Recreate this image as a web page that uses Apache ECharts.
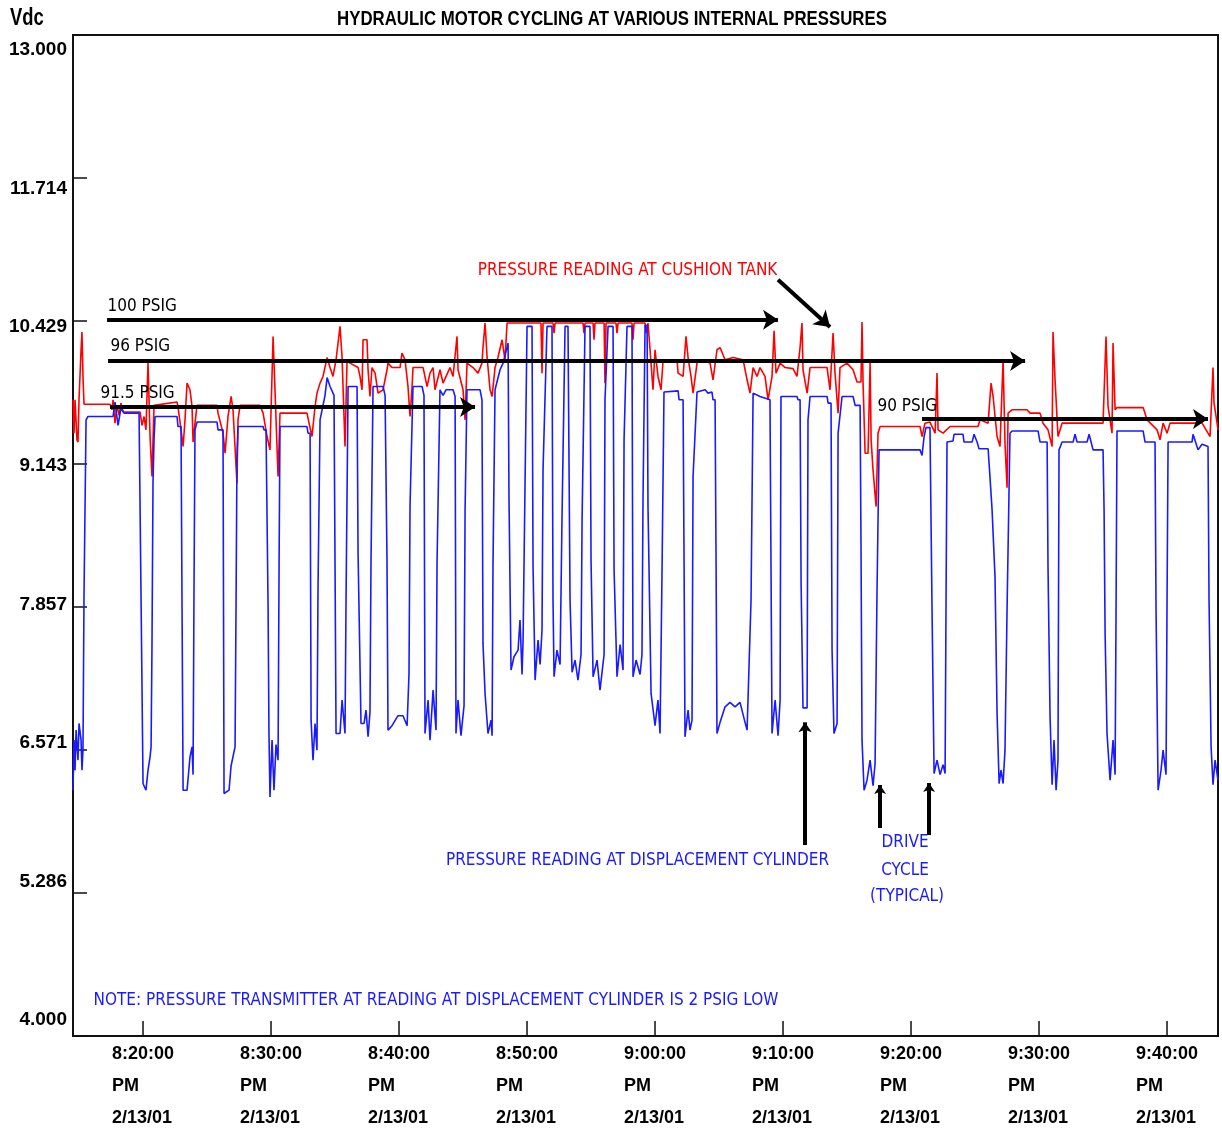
<!DOCTYPE html>
<html><head><meta charset="utf-8">
<script src="https://cdn.jsdelivr.net/npm/echarts@6/dist/echarts.min.js"></script>
<style>html,body{margin:0;padding:0;background:#fff}#c{width:1222px;height:1132px}</style>
</head><body><div id="c"></div>
<script>
const BOLD = "'Liberation Sans','Arial',sans-serif";
const NOTEFONT = "'DejaVu Sans Condensed','DejaVu Sans',sans-serif";
// x values: minutes after 8:00 PM; y values: Vdc
const xTickMinutes = [20,30,40,50,60,70,80,90,100];
const xDateLabel = '2/13/01';
const yTickValues = [4.0000, 5.2857, 6.5714, 7.8571, 9.1429, 10.4286, 11.7143, 13.0000];
const chartTitle = 'HYDRAULIC MOTOR CYCLING AT VARIOUS INTERNAL PRESSURES';
const yUnit = 'Vdc';

const displacementCylinder = [[14.53,6.21],[14.61,6.66],[14.69,6.39],[14.77,6.75],[14.92,6.48],[15.00,6.81],[15.16,6.66],[15.23,6.39],[15.31,6.57],[15.39,7.96],[15.55,9.54],[15.70,9.57],[17.66,9.57],[17.81,9.70],[18.05,9.49],[18.28,9.65],[18.52,9.60],[19.69,9.60],[19.84,8.01],[20.00,6.27],[20.23,6.21],[20.39,6.39],[20.55,6.51],[20.63,6.60],[20.70,7.50],[20.78,8.97],[20.86,9.36],[20.94,9.57],[22.66,9.57],[22.73,9.48],[22.97,9.48],[23.05,7.83],[23.13,6.21],[23.44,6.21],[23.67,6.51],[23.83,6.60],[23.91,6.35],[23.98,7.95],[24.06,9.45],[24.22,9.52],[25.78,9.52],[25.86,9.45],[26.25,9.45],[26.33,6.18],[26.72,6.21],[26.88,6.43],[27.19,6.60],[27.27,7.92],[27.34,9.21],[27.42,9.48],[29.38,9.48],[29.45,9.45],[29.61,9.45],[29.77,7.86],[29.84,6.72],[29.92,6.15],[30.08,6.66],[30.23,6.21],[30.39,6.62],[30.55,6.48],[30.63,8.25],[30.70,9.48],[32.81,9.48],[32.89,9.42],[33.05,9.42],[33.13,6.84],[33.28,6.48],[33.44,6.81],[33.59,6.57],[33.67,8.01],[33.83,9.54],[34.22,9.76],[34.38,9.92],[34.61,9.84],[34.92,9.76],[35.00,8.25],[35.08,6.72],[35.39,6.72],[35.55,7.02],[35.78,6.72],[35.86,7.92],[36.02,9.84],[36.72,9.84],[36.80,8.34],[37.03,6.81],[37.27,6.81],[37.42,6.93],[37.58,6.69],[37.73,6.91],[37.81,8.25],[37.97,9.84],[38.75,9.84],[38.91,9.76],[39.06,8.28],[39.14,6.75],[39.45,6.79],[39.92,6.88],[40.31,6.88],[40.63,6.79],[40.78,7.26],[40.86,8.77],[41.09,9.84],[41.80,9.84],[41.95,9.76],[42.03,6.72],[42.27,7.02],[42.42,6.66],[42.66,7.11],[42.89,6.75],[42.97,8.25],[43.20,9.81],[43.44,9.76],[43.67,9.81],[44.22,9.81],[44.38,9.75],[44.45,6.72],[44.61,7.02],[44.84,6.70],[45.08,6.97],[45.16,8.73],[45.31,9.81],[46.33,9.81],[46.48,9.72],[46.56,7.53],[46.72,7.08],[46.95,6.72],[47.19,6.84],[47.27,6.70],[47.34,8.22],[47.50,9.81],[47.89,9.99],[48.13,10.05],[48.52,10.23],[48.59,8.85],[48.75,7.29],[48.98,7.41],[49.30,7.47],[49.45,7.74],[49.61,7.25],[49.69,7.56],[50.00,10.38],[50.39,10.38],[50.47,8.22],[50.63,7.20],[50.86,7.56],[51.02,7.34],[51.17,7.65],[51.25,9.09],[51.56,10.38],[51.95,10.38],[52.03,7.92],[52.11,7.23],[52.34,7.47],[52.58,7.34],[52.73,8.64],[52.97,10.38],[53.20,10.38],[53.36,7.92],[53.52,7.27],[53.75,7.38],[53.98,7.20],[54.22,7.43],[54.30,8.64],[54.53,10.38],[54.92,10.38],[55.00,8.28],[55.16,7.23],[55.47,7.38],[55.70,7.11],[56.02,7.43],[56.09,9.72],[56.33,10.38],[56.72,10.38],[56.80,8.19],[57.03,7.23],[57.27,7.52],[57.50,7.29],[57.58,9.36],[57.81,10.38],[58.20,10.38],[58.28,7.23],[58.52,7.38],[58.83,7.25],[58.98,7.43],[59.06,8.82],[59.22,10.39],[59.38,10.39],[59.45,8.76],[59.69,7.08],[60.00,6.79],[60.23,7.02],[60.39,6.72],[60.55,8.22],[60.70,9.79],[61.80,9.80],[61.88,9.72],[62.19,9.72],[62.27,8.22],[62.34,6.69],[62.58,6.93],[62.73,6.75],[62.89,6.84],[62.97,9.03],[63.28,9.79],[63.91,9.81],[64.14,9.78],[64.45,9.79],[64.53,9.72],[64.69,9.72],[64.77,8.22],[64.84,6.72],[65.08,6.82],[65.47,6.96],[65.86,7.00],[66.25,6.96],[66.64,7.00],[67.03,6.82],[67.19,6.75],[67.50,7.92],[67.66,9.78],[68.20,9.75],[68.98,9.72],[69.06,8.22],[69.14,6.72],[69.38,7.02],[69.61,6.70],[69.77,7.02],[69.84,9.75],[71.09,9.75],[71.17,9.72],[71.33,9.72],[71.41,8.07],[71.56,6.95],[71.88,6.95],[71.95,9.54],[72.11,9.75],[73.44,9.75],[73.52,9.69],[73.75,9.69],[73.83,7.47],[73.98,6.72],[74.22,6.81],[74.30,9.42],[74.61,9.75],[75.47,9.75],[75.63,9.67],[76.02,9.67],[76.09,8.43],[76.17,6.66],[76.33,6.21],[76.56,6.30],[76.80,6.48],[77.03,6.25],[77.19,6.45],[77.34,7.98],[77.50,9.27],[80.70,9.27],[80.86,9.22],[81.02,9.39],[81.17,9.47],[81.48,9.47],[81.64,7.83],[81.80,6.36],[82.03,6.48],[82.27,6.35],[82.50,6.44],[82.66,6.36],[82.73,7.83],[82.81,9.34],[83.28,9.35],[83.36,9.41],[84.06,9.41],[84.14,9.34],[84.77,9.34],[84.92,9.41],[85.16,9.34],[85.31,9.28],[86.02,9.28],[86.17,9.02],[86.33,8.73],[86.56,8.13],[86.72,6.90],[86.88,6.27],[87.03,6.39],[87.19,6.27],[87.34,6.57],[87.50,7.83],[87.73,9.42],[87.89,9.44],[89.92,9.44],[90.08,9.34],[90.63,9.34],[90.70,8.22],[90.86,6.87],[91.02,6.26],[91.17,6.66],[91.33,6.21],[91.48,6.48],[91.56,9.27],[91.80,9.34],[92.66,9.34],[92.81,9.41],[92.97,9.34],[93.75,9.34],[93.91,9.41],[94.22,9.27],[95.00,9.27],[95.08,8.73],[95.16,7.62],[95.31,6.72],[95.55,6.30],[95.78,6.66],[95.94,6.35],[96.02,7.92],[96.09,9.44],[98.13,9.44],[98.28,9.34],[99.06,9.34],[99.14,7.83],[99.30,6.21],[99.53,6.39],[99.69,6.57],[99.92,6.35],[100.00,7.92],[100.08,9.34],[101.95,9.34],[102.03,9.41],[102.42,9.27],[102.73,9.32],[103.20,9.30],[103.28,7.92],[103.44,6.60],[103.59,6.26],[103.75,6.48],[103.98,6.30]];

const cushionTank = [[14.53,9.72],[14.61,9.42],[14.69,9.72],[14.84,9.36],[14.92,9.34],[15.00,9.72],[15.16,10.17],[15.23,10.33],[15.31,9.93],[15.39,9.68],[17.42,9.68],[17.58,9.63],[17.66,9.72],[17.81,9.51],[17.97,9.67],[18.13,9.58],[18.28,9.69],[18.44,9.61],[19.77,9.61],[19.92,9.49],[20.08,9.57],[20.23,9.45],[20.39,10.05],[20.55,9.39],[20.70,9.03],[20.86,9.67],[22.66,9.70],[22.73,9.66],[22.97,9.45],[23.13,9.30],[23.28,9.54],[23.44,9.87],[23.67,9.81],[23.83,9.66],[23.91,9.34],[24.06,9.51],[24.22,9.67],[25.78,9.67],[25.86,9.60],[26.25,9.42],[26.41,9.24],[26.64,9.57],[26.88,9.75],[27.03,9.63],[27.34,8.97],[27.42,9.54],[27.58,9.67],[29.14,9.67],[29.38,9.60],[29.69,9.39],[29.92,9.27],[30.16,10.29],[30.31,9.81],[30.55,9.03],[30.70,9.60],[32.81,9.60],[32.97,9.51],[33.20,9.39],[33.44,9.66],[33.59,9.78],[33.83,9.87],[34.06,9.93],[34.38,10.10],[34.61,10.01],[34.84,9.93],[35.08,10.08],[35.39,10.38],[35.55,10.10],[35.78,9.30],[35.94,10.08],[36.17,10.05],[36.80,10.01],[36.95,9.93],[37.11,9.81],[37.19,10.26],[37.50,10.26],[37.58,9.99],[37.73,9.75],[37.89,10.01],[38.13,9.96],[38.36,9.78],[38.75,9.81],[39.06,9.99],[39.14,10.05],[39.45,10.01],[40.08,10.01],[40.23,10.14],[40.47,10.08],[40.70,9.84],[40.86,9.57],[41.02,9.84],[41.09,10.01],[41.88,10.01],[42.19,9.84],[42.42,9.96],[42.66,10.01],[42.81,9.81],[43.20,9.99],[43.44,9.87],[43.98,10.01],[44.22,9.93],[44.53,10.29],[44.61,9.99],[45.00,9.81],[45.16,9.54],[45.31,10.05],[45.78,10.01],[46.17,9.96],[46.48,10.05],[46.56,10.19],[46.72,10.41],[46.88,10.10],[47.11,9.81],[47.27,9.75],[47.50,10.01],[47.73,10.10],[48.05,10.26],[48.28,10.08],[48.44,10.41],[51.09,10.41],[51.17,9.96],[51.25,10.41],[52.03,10.41],[52.11,10.32],[52.19,10.41],[54.38,10.41],[54.45,10.32],[54.53,10.41],[55.16,10.41],[55.23,10.26],[55.31,10.41],[56.02,10.41],[56.09,9.87],[56.17,10.41],[56.95,10.41],[57.03,10.32],[57.11,10.41],[58.20,10.41],[58.28,10.26],[58.36,10.41],[59.22,10.41],[59.30,10.32],[59.45,10.41],[59.61,10.17],[59.84,9.81],[60.00,10.17],[60.23,9.93],[60.47,9.81],[60.63,10.08],[61.72,10.08],[61.80,9.96],[62.19,9.93],[62.42,10.29],[62.58,10.10],[62.81,9.93],[62.97,9.78],[63.28,10.05],[63.52,10.08],[64.30,10.05],[64.53,9.90],[64.84,10.17],[65.08,10.19],[65.47,10.08],[66.09,10.10],[66.88,10.08],[67.19,9.90],[67.42,9.78],[67.66,10.01],[67.97,9.93],[68.20,10.01],[68.59,9.93],[68.83,9.72],[69.14,9.93],[69.30,10.34],[69.45,9.96],[69.77,10.05],[70.16,10.01],[70.78,10.00],[71.09,9.93],[71.33,10.19],[71.48,10.41],[71.56,9.99],[71.88,9.78],[72.11,10.01],[73.44,10.01],[73.67,9.81],[73.91,10.32],[74.06,9.96],[74.30,9.60],[74.45,10.01],[75.00,10.05],[75.47,9.99],[75.78,9.88],[76.09,9.88],[76.17,10.42],[76.25,9.88],[76.41,9.24],[76.64,9.24],[76.80,10.05],[76.88,9.36],[77.03,9.09],[77.27,8.76],[77.42,9.42],[77.58,9.48],[80.70,9.48],[80.86,9.39],[81.09,9.51],[81.48,9.52],[81.88,9.42],[82.03,9.96],[82.11,9.45],[82.50,9.42],[83.05,9.48],[85.23,9.48],[85.39,9.54],[86.02,9.51],[86.25,9.87],[86.41,9.75],[86.72,9.39],[86.95,9.30],[87.19,10.08],[87.34,9.33],[87.50,8.93],[87.58,9.60],[87.89,9.63],[89.06,9.63],[89.30,9.60],[90.08,9.60],[90.31,9.51],[90.70,9.45],[91.02,9.30],[91.09,10.33],[91.25,9.90],[91.48,9.39],[91.80,9.51],[94.77,9.51],[95.00,9.51],[95.23,10.29],[95.39,9.66],[95.70,9.42],[95.78,10.23],[95.94,9.63],[96.09,9.65],[98.13,9.65],[98.44,9.54],[99.22,9.45],[99.45,9.36],[99.69,9.51],[100.00,9.42],[100.23,9.51],[102.34,9.51],[102.58,9.54],[103.20,9.42],[103.36,9.39],[103.59,10.01],[103.67,9.69],[103.91,9.51],[103.98,9.45]];

// annotation arrows: [startMinute, startVdc, endMinute, endVdc, headSize]
const arrows = [
  [17.19,10.44, 69.61,10.44, 15],
  [17.27,10.07, 88.91,10.07, 15],
  [17.42,9.655, 45.94,9.655, 15],
  [80.86,9.547, 103.2,9.547, 15],
  [69.61,10.80, 73.67,10.375, 15],
  [71.72,5.717, 71.72,6.82, 10],
  [77.58,5.870, 77.58,6.257, 9],
  [81.41,5.807, 81.41,6.275, 9]
];
// text notes: [minute, Vdc, text, colour, anchor]
const notes = [
  [17.19,10.56,'100 PSIG','#000','left'],
  [17.42,10.20,'96 PSIG','#000','left'],
  [16.64,9.78,'91.5 PSIG','#000','left'],
  [77.34,9.655,'90 PSIG','#000','left'],
  [57.85,10.878,'PRESSURE READING AT CUSHION TANK','#ff0000','center'],
  [58.63,5.573,'PRESSURE READING AT DISPLACEMENT CYLINDER','#1a1aff','center'],
  [79.53,5.735,'DRIVE','#1a1aff','center'],
  [79.53,5.483,'CYCLE','#1a1aff','center'],
  [79.69,5.250,'(TYPICAL)','#1a1aff','center'],
  [16.09,4.315,'NOTE: PRESSURE TRANSMITTER AT READING AT DISPLACEMENT CYLINDER IS 2 PSIG LOW','#1a1aff','left']
];

function timeLabel(m){
  const h = 8 + Math.floor(m/60);
  const mm = Math.round(m % 60);
  return h + ':' + (mm<10?'0':'') + mm + ':00';
}

const chart = echarts.init(document.getElementById('c'), null, {renderer:'canvas'});
const option = {
  animation:false,
  backgroundColor:'#fff',
  graphic:[
    {type:'text', x:612, y:19, scaleX:0.8, silent:true,
     style:{text:chartTitle, x:0, y:0, textAlign:'center', textVerticalAlign:'middle', font:"bold 21px 'Liberation Sans', Arial, sans-serif", fill:'#000'}},
    {type:'text', x:10, y:19, scaleX:0.8, silent:true,
     style:{text:yUnit, x:0, y:0, textAlign:'left', textVerticalAlign:'middle', font:"bold 23px 'Liberation Sans', Arial, sans-serif", fill:'#000'}}
  ],
  grid:{left:73, right:4, top:35, bottom:96, show:true, borderColor:'#111', borderWidth:2, backgroundColor:'#fff', outerBoundsMode:'none', containLabel:false},
  xAxis:{
    type:'value', min:14.53, max:103.98,
    axisLine:{show:true, onZero:false, lineStyle:{color:'#111', width:2}},
    axisTick:{show:true, inside:true, length:15, customValues:xTickMinutes, lineStyle:{color:'#111', width:1.5}},
    splitLine:{show:false},
    axisLabel:{
      customValues:xTickMinutes, margin:2, showMinLabel:true, showMaxLabel:true, hideOverlap:false,
      formatter:(v)=>'{a|'+timeLabel(v)+'}\n{a|PM}\n{a|'+xDateLabel+'}',
      rich:{a:{fontFamily:BOLD, fontSize:18, fontWeight:'bold', color:'#000', width:62, align:'left', lineHeight:32}}
    }
  },
  yAxis:[
    {type:'value', min:4, max:13, position:'left',
     axisLine:{show:true, onZero:false, lineStyle:{color:'#111', width:2}},
     axisTick:{show:true, inside:true, length:14, customValues:yTickValues, lineStyle:{color:'#111', width:1.5}},
     axisLabel:{show:false}, splitLine:{show:false}},
    {type:'value', min:3.8515, max:13.1395, position:'left', offset:0,
     axisLine:{show:false}, axisTick:{show:false}, splitLine:{show:false},
     axisLabel:{customValues:yTickValues, margin:6, formatter:(v)=>v.toFixed(3),
       fontFamily:BOLD, fontSize:19, fontWeight:'bold', color:'#000'}}
  ],
  series:[
    {name:'Cushion tank', type:'line', data:cushionTank, yAxisIndex:0, showSymbol:false, symbol:'none',
     lineStyle:{color:'#ff0000', width:1.6}, z:2, silent:true},
    {name:'Displacement cylinder', type:'line', data:displacementCylinder, yAxisIndex:0, showSymbol:false, symbol:'none',
     lineStyle:{color:'#1a1aff', width:1.6}, z:3, silent:true},
    {name:'notes', type:'line', data:[[14.53,4]], yAxisIndex:0, symbol:'none', lineStyle:{opacity:0}, z:5, silent:true,
     markLine:{silent:true, animation:false, symbol:['none','arrow'],
       lineStyle:{color:'#000', width:4, type:'solid'}, label:{show:false},
       data:arrows.map(a=>[{coord:[a[0],a[1]], symbol:'none'},{coord:[a[2],a[3]], symbol:'arrow', symbolSize:a[4]}])},
     markPoint:{silent:true, animation:false, symbol:'circle', symbolSize:1, itemStyle:{color:'rgba(0,0,0,0)'},
       data:notes.map(n=>({coord:[n[0],n[1]], value:0,
         label:{show:true, formatter:n[2], position:n[4]==='left'?'right':'inside', distance:0,
           fontFamily:NOTEFONT, fontSize:17, color:n[3]}}))}
    }
  ]
};
chart.setOption(option);
</script></body></html>
